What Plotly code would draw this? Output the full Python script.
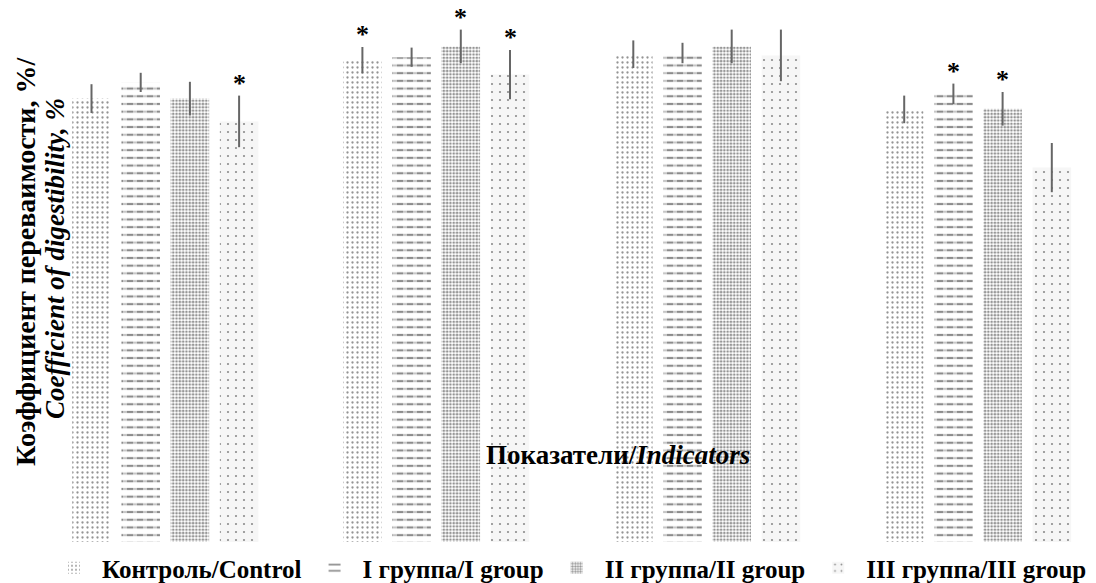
import plotly.graph_objects as go

# ---------------- data ----------------
indicators = ["Показатель 1", "Показатель 2", "Показатель 3", "Показатель 4"]
series_names = ["Контроль/Control", "I группа/I group", "II группа/II group", "III группа/III group"]

control = [73.9, 80.3, 81.3, 72.1]
group1 = [76.6, 80.8, 81.5, 74.7]
group2 = [73.9, 82.6, 82.6, 72.2]
group3 = [70.1, 77.9, 81.1, 62.4]

control_err = [2.4, 2.2, 2.3, 2.3]
group1_err = [1.6, 1.6, 1.7, 1.7]
group2_err = [2.8, 2.8, 2.8, 2.8]
group3_err = [4.3, 4.1, 4.3, 4.1]

control_sig = [False, True, False, False]
group1_sig = [False, False, False, True]
group2_sig = [False, True, False, True]
group3_sig = [True, True, False, False]

y_title_ru = "Коэффициент переваимости, %/"
y_title_en = "Coefficient of digestibility, %"
x_title = "Показатели/<i>Indicators</i>"

# ---------------- styling ----------------
FONT = "Liberation Serif"
BARGAP = 0.2735
GROUPGAP = 0.217
ERR_COLOR = "#666666"

values = [control, group1, group2, group3]
errors = [control_err, group1_err, group2_err, group3_err]
sigs = [control_sig, group1_sig, group2_sig, group3_sig]
groups = ["c", "g1", "g2", "g3"]
patterns = [
    dict(shape=".", size=5.0, solidity=0.17, fgcolor="#2a2a2a", bgcolor="#ffffff"),
    dict(shape="-", size=7.7, solidity=0.28, fgcolor="#1a1a1a", bgcolor="#ffffff"),
    dict(shape=".", size=3.3, solidity=0.5, fgcolor="#2a2a2a", bgcolor="#ffffff"),
    dict(shape=".", size=8.0, solidity=0.06, fgcolor="#222222", bgcolor="#f6f6f6"),
]

x_idx = list(range(len(indicators)))

fig = go.Figure()
for k in range(4):
    own_err = k != 1
    fig.add_trace(go.Bar(
        x=x_idx, y=values[k], name=series_names[k],
        offsetgroup=groups[k],
        marker=dict(color="#ffffff", line=dict(width=0), pattern=patterns[k]),
        error_y=dict(type="data", array=errors[k], visible=own_err,
                     color=ERR_COLOR, thickness=2, width=0),
        hoverinfo="skip",
    ))
    if k == 1:
        # white vertical stripes cut the horizontal lines into dashes
        fig.add_trace(go.Bar(
            x=x_idx, y=values[k], name=series_names[k] + " (dashes)",
            offsetgroup=groups[k], showlegend=False,
            marker=dict(color="rgba(0,0,0,0)", line=dict(width=0),
                        pattern=dict(shape="|", size=10, solidity=0.4,
                                     fgcolor="#ffffff", bgcolor="rgba(0,0,0,0)",
                                     fillmode="overlay")),
            error_y=dict(type="data", array=errors[k], visible=True,
                         color=ERR_COLOR, thickness=2, width=0),
            hoverinfo="skip",
        ))

slot = (1 - BARGAP) / 4
annotations = []
for k in range(4):
    for i in x_idx:
        if sigs[k][i]:
            annotations.append(dict(
                x=i + (k - 1.5) * slot, y=values[k][i] + errors[k][i],
                xref="x", yref="y", text="*", showarrow=False,
                yanchor="bottom", xanchor="center", yshift=-4,
                font=dict(family=FONT, size=26, color="#000000", weight="bold"),
            ))

H_PLOT = 542.0
annotations += [
    dict(text=y_title_ru, textangle=-90, x=25 / 1096, y=(H_PLOT - 262) / H_PLOT,
         xref="paper", yref="paper", showarrow=False, xanchor="center", yanchor="middle",
         font=dict(family=FONT, size=28, color="#000000", weight="bold")),
    dict(text="<i>" + y_title_en + "</i>", textangle=-90, x=55 / 1096, y=(H_PLOT - 259) / H_PLOT,
         xref="paper", yref="paper", showarrow=False, xanchor="center", yanchor="middle",
         font=dict(family=FONT, size=27, color="#000000", weight="bold")),
    dict(text=x_title, x=617.5 / 1096, y=(H_PLOT - 455) / H_PLOT,
         xref="paper", yref="paper", showarrow=False, xanchor="center", yanchor="middle",
         font=dict(family=FONT, size=27, color="#000000", weight="bold")),
]

ITEMWIDTH = 46
fig.update_layout(
    width=1096, height=583,
    margin=dict(l=0, r=0, t=0, b=41, autoexpand=False),
    paper_bgcolor="#ffffff", plot_bgcolor="#ffffff",
    barmode="group", bargap=BARGAP, bargroupgap=GROUPGAP,
    showlegend=True,
    legend=dict(orientation="h", x=(102 - ITEMWIDTH - 10) / 1096, y=-26 / H_PLOT,
                xanchor="left", yanchor="middle",
                font=dict(family=FONT, size=25, color="#000000", weight="bold"),
                itemwidth=ITEMWIDTH,
                bgcolor="rgba(0,0,0,0)", traceorder="normal"),
    xaxis=dict(range=[-165.3 / 270.9, (1096 - 165.3) / 270.9], showticklabels=False,
               showgrid=False, zeroline=False, showline=False, ticks="",
               tickvals=x_idx, ticktext=indicators),
    yaxis=dict(range=[0, H_PLOT / 6.0], showticklabels=False, showgrid=False,
               zeroline=False, showline=False, ticks=""),
    annotations=annotations,
)

fig.write_html("out.html", config={"displayModeBar": False},
               post_script="document.body.style.margin='0px';document.body.style.overflow='hidden';")
